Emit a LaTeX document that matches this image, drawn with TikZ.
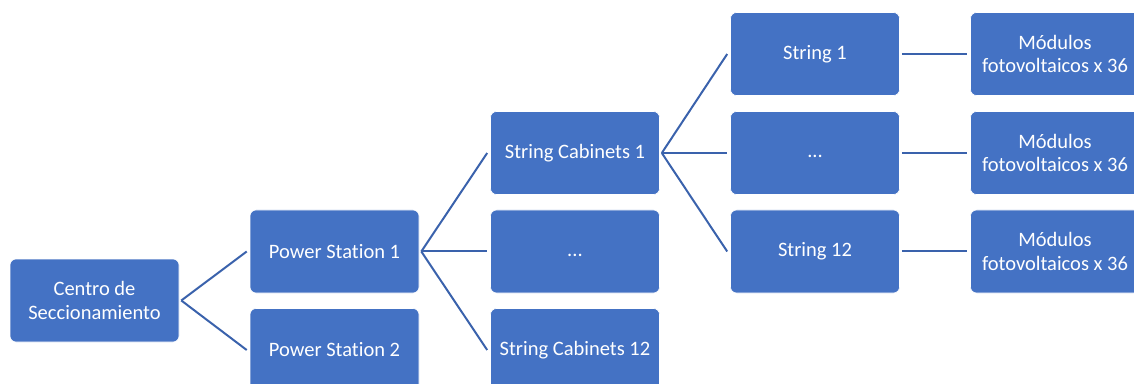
\documentclass[tikz,border=0pt]{standalone}
\usepackage{fontspec}
\setmainfont[Ligatures={NoCommon}]{Carlito}
\definecolor{boxblue}{HTML}{4472C4}
\definecolor{lineblue}{HTML}{3A62AC}
\begin{document}
\begin{tikzpicture}[x=1pt,y=1pt,
  blk/.style={rectangle,rounded corners=6pt,fill=boxblue,draw=white,line width=0.6pt,
    minimum width=169pt,minimum height=83pt,inner sep=0pt,text=white,
    font=\fontsize{20.5}{23.5}\selectfont,align=center},
  conn/.style={draw=lineblue,line width=2pt}]
\useasboundingbox (0,0) rectangle (1134,383);
\clip (0,0) rectangle (1134,383);
% rows: y centres 54, 153, 251.5, 350 (image coords)
\node[blk] (cs) at (94.5,82.5) {Centro de\\Seccionamiento};
\node[blk] (ps1) at (334.5,131.5) {Power Station 1};
\node[blk] (ps2) at (334.5,33) {Power Station 2};
\node[blk] (sc1) at (575,230) {String Cabinets 1};
\node[blk] (scd) at (575,131.5) {\vphantom{Sg}...};
\node[blk] (sc12) at (575,33) {String Cabinets 12};
\node[blk] (s1) at (815,329) {String 1};
\node[blk] (sd) at (815,230) {\vphantom{Sg}...};
\node[blk] (s12) at (815,131.5) {String 12};
\node[blk] (m1) at (1055,329) {Módulos\\fotovoltaicos x 36};
\node[blk] (m2) at (1055,230) {Módulos\\fotovoltaicos x 36};
\node[blk] (m3) at (1055,131.5) {Módulos\\fotovoltaicos x 36};
\draw[conn] ([xshift=2pt]cs.east) -- ([xshift=-3pt]ps1.west);
\draw[conn] ([xshift=2pt]cs.east) -- ([xshift=-3pt]ps2.west);
\draw[conn] ([xshift=2pt]ps1.east) -- ([xshift=-3pt]sc1.west);
\draw[conn] ([xshift=2pt]ps1.east) -- ([xshift=-3pt]scd.west);
\draw[conn] ([xshift=2pt]ps1.east) -- ([xshift=-3pt]sc12.west);
\draw[conn] ([xshift=2pt]sc1.east) -- ([xshift=-3pt]s1.west);
\draw[conn] ([xshift=2pt]sc1.east) -- ([xshift=-3pt]sd.west);
\draw[conn] ([xshift=2pt]sc1.east) -- ([xshift=-3pt]s12.west);
\draw[conn] ([xshift=2pt]s1.east) -- ([xshift=-3pt]m1.west);
\draw[conn] ([xshift=2pt]sd.east) -- ([xshift=-3pt]m2.west);
\draw[conn] ([xshift=2pt]s12.east) -- ([xshift=-3pt]m3.west);
\end{tikzpicture}
\end{document}
